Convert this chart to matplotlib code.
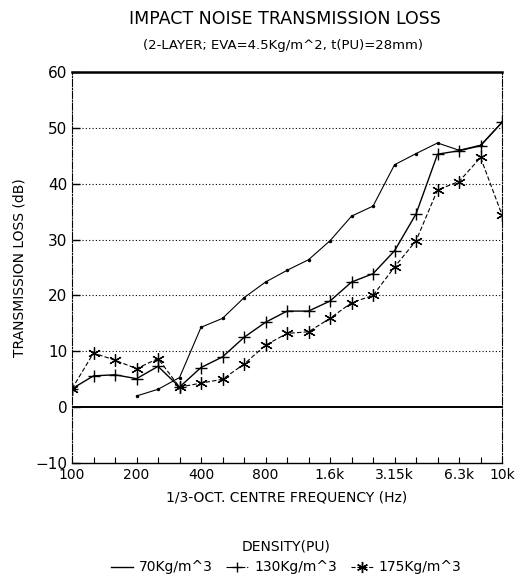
import matplotlib
matplotlib.use("Agg")
import matplotlib.pyplot as plt
from matplotlib.lines import Line2D
import numpy as np

plt.rcParams['font.family'] = ['Liberation Sans Narrow', 'DejaVu Sans']

# 1/3-octave bands 100 Hz .. 10 kHz
bands = [100, 125, 160, 200, 250, 315, 400, 500, 630, 800, 1000, 1250,
         1600, 2000, 2500, 3150, 4000, 5000, 6300, 8000, 10000]
tick_idx = [0, 3, 6, 9, 12, 15, 18, 20]
tick_lbl = ['100', '200', '400', '800', '1.6k', '3.15k', '6.3k', '10k']

nan = np.nan
tl_70 = [nan, nan, nan, 2.0, 3.2, 5.3, 14.3, 15.9, 19.6, 22.4, 24.5, 26.4,
         29.8, 34.2, 36.0, 43.4, 45.4, 47.3, 46.0, 46.9, 51.0]
tl_130 = [3.3, 5.6, 5.8, 5.1, 7.3, 3.6, 7.1, 9.0, 12.5, 15.2, 17.2, 17.2,
          19.0, 22.4, 23.9, 28.0, 34.6, 45.3, 45.9, 46.8, 51.0]
tl_175 = [3.3, 9.7, 8.4, 6.9, 8.7, 3.6, 4.3, 5.0, 7.7, 11.1, 13.2, 13.5,
          15.9, 18.7, 20.0, 25.1, 29.8, 38.9, 40.4, 44.7, 34.4]

x = np.arange(len(bands))

fig = plt.figure(figsize=(5.2, 5.8), dpi=100)
ax = fig.add_axes([0.1385, 0.2017, 0.827, 0.6741])

# grid
for g in [10, 20, 30, 40, 50]:
    ax.axhline(g, color='black', lw=0.8, ls=(0, (1, 2)), zorder=1)
ax.axhline(0, color='black', lw=1.4, zorder=1)

ax.plot(x, tl_70, color='black', lw=0.8, marker='.', ms=3, zorder=3)
ax.plot(x, tl_130, color='black', lw=1.0, marker='+', ms=8, mew=1.0, zorder=3)
ax.plot(x, tl_175, color='black', lw=0.8, ls=(0, (4, 2)), marker=(6, 2, 0), ms=9,
        mew=0.9, zorder=3)

ax.set_xlim(0, 20)
ax.set_ylim(-10, 60)
ax.set_yticks(range(-10, 61, 10))
ax.set_xticks(tick_idx)
ax.set_xticklabels(tick_lbl)
ax.set_xticks(x, minor=True)
ax.tick_params(axis='y', direction='in', length=6, labelsize=11, width=1)
ax.tick_params(axis='x', which='both', direction='in', length=4, labelsize=10, width=0.8)

ax.spines['top'].set_linewidth(1.8)
ax.spines['bottom'].set_linewidth(1.0)
ax.spines['left'].set_linestyle('-.')
ax.spines['left'].set_linewidth(0.8)
ax.spines['right'].set_linestyle('-.')
ax.spines['right'].set_linewidth(0.8)

ax.set_xlabel('1/3-OCT. CENTRE FREQUENCY (Hz)', fontsize=10, labelpad=6)
ax.set_ylabel('TRANSMISSION LOSS (dB)', fontsize=10, labelpad=6)

fig.text(0.548, 0.968, 'IMPACT NOISE TRANSMISSION LOSS', ha='center', va='center', fontsize=12.5)
fig.text(0.545, 0.921, '(2-LAYER; EVA=4.5Kg/m^2, t(PU)=28mm)', ha='center', va='center', fontsize=9.5)

handles = [
    Line2D([], [], color='black', lw=1.0),
    Line2D([], [], color='black', lw=0.8, ls='-.', marker='+', ms=7),
    Line2D([], [], color='black', lw=0.8, ls='--', marker=(6, 2, 0), ms=8),
]
labels = ['70Kg/m^3', '130Kg/m^3', '175Kg/m^3']
fig.legend(handles, labels, loc='lower center', bbox_to_anchor=(0.55, -0.012), ncol=3,
           frameon=False, title='DENSITY(PU)', fontsize=10, title_fontsize=10,
           handlelength=1.6, handletextpad=0.4, columnspacing=1.0)

fig.savefig('out.png', dpi=100)
